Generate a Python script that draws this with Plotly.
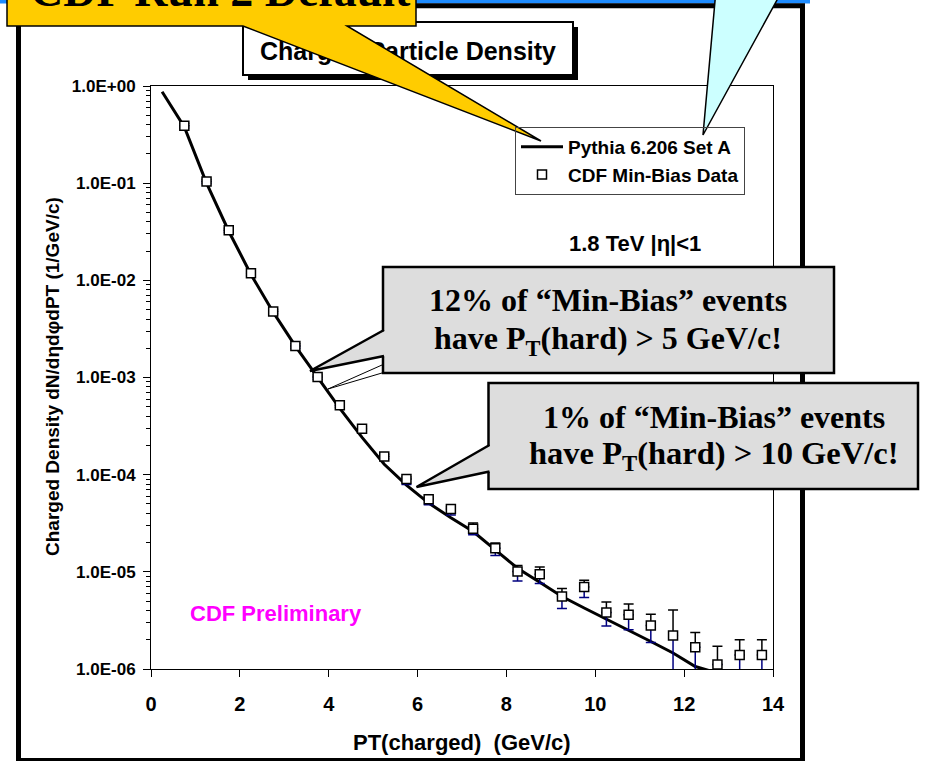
import plotly.graph_objects as go

# ---------------- data ----------------
pt_data = [0.75, 1.25, 1.75, 2.25, 2.75, 3.25, 3.75, 4.25, 4.75, 5.25, 5.75, 6.25, 6.75,
           7.25, 7.75, 8.25, 8.75, 9.25, 9.75, 10.25, 10.75, 11.25, 11.75, 12.25, 12.75,
           13.25, 13.75]
dens_data = [0.39, 0.104, 0.0328, 0.0118, 0.00477, 0.00211, 0.00101, 5.19e-4, 2.96e-4,
             1.54e-4, 9.0e-5, 5.6e-5, 4.42e-5, 2.77e-5, 1.75e-5, 1.01e-5, 9.47e-6, 5.57e-6,
             6.97e-6, 3.82e-6, 3.61e-6, 2.81e-6, 2.21e-6, 1.67e-6, 1.11e-6, 1.39e-6, 1.39e-6]
dens_hi = [0.41, 0.109, 0.0344, 0.0124, 0.0050, 0.00222, 0.00106, 5.45e-4, 3.11e-4,
           1.62e-4, 9.45e-5, 5.9e-5, 4.65e-5, 3.19e-5, 1.98e-5, 1.16e-5, 1.12e-5, 6.75e-6,
           8.2e-6, 4.9e-6, 4.66e-6, 3.65e-6, 4.05e-6, 2.38e-6, 1.71e-6, 2.0e-6, 2.0e-6]
dens_lo = [0.37, 0.099, 0.0312, 0.0112, 0.00453, 0.0020, 0.00096, 4.93e-4, 2.81e-4,
           1.46e-4, 7.9e-5, 4.9e-5, 3.85e-5, 2.41e-5, 1.47e-5, 8.07e-6, 7.6e-6, 4.2e-6,
           5.45e-6, 2.77e-6, 2.54e-6, 1.87e-6, 5.0e-7, 9.5e-7, 5.0e-7, 5.0e-7, 5.0e-7]

pt_mc = [0.25, 0.75, 1.25, 1.75, 2.25, 2.75, 3.25, 3.75, 4.25, 4.75, 5.25, 5.75, 6.25,
         6.75, 7.25, 7.75, 8.25, 8.75, 9.25, 9.75, 10.25, 10.75, 11.25, 11.75, 12.25, 12.75]
dens_mc = [0.874, 0.38, 0.10, 0.032, 0.0115, 0.0047, 0.0021, 9.9e-4, 4.8e-4, 2.42e-4,
           1.28e-4, 7.8e-5, 5.1e-5, 3.6e-5, 2.6e-5, 1.68e-5, 1.09e-5, 7.8e-6, 5.57e-6,
           4.24e-6, 3.26e-6, 2.53e-6, 1.92e-6, 1.46e-6, 1.06e-6, 9.1e-7]

y_tickvals = [1e-6, 1e-5, 1e-4, 1e-3, 1e-2, 1e-1, 1.0]
y_ticktext = ["1.0E-06", "1.0E-05", "1.0E-04", "1.0E-03", "1.0E-02", "1.0E-01", "1.0E+00"]
x_tickvals = [0, 2, 4, 6, 8, 10, 12, 14]

# ---------------- layout helpers ----------------
W, H = 929, 761
ML, MR, MT, MB = 151, 156, 86, 92
PW = W - ML - MR
PH = H - MT - MB
SANS = "Liberation Sans, Arial, sans-serif"
SERIF = "Liberation Serif, Times New Roman, serif"


def px(x):
    return (x - ML) / PW


def py(y):
    return (H - MB - y) / PH


def path(points, close=True):
    s = "M " + " L ".join(f"{px(x):.5f},{py(y):.5f}" for x, y in points)
    return s + (" Z" if close else "")


def rect(x0, y0, x1, y1, **kw):
    return dict(type="rect", xref="paper", yref="paper", layer="above",
                x0=px(x0), x1=px(x1), y0=py(y1), y1=py(y0), **kw)


def pshape(points, close=True, **kw):
    return dict(type="path", xref="paper", yref="paper", layer="above",
                path=path(points, close), **kw)


err_up = [h - v for h, v in zip(dens_hi, dens_data)]
err_dn = [v - l for v, l in zip(dens_data, dens_lo)]
zeros = [0] * len(dens_data)

fig = go.Figure()
fig.add_trace(go.Scatter(x=pt_mc, y=dens_mc, mode="lines", name="Pythia 6.206 Set A",
                         line=dict(color="black", width=3), legendgroup="a"))
fig.add_trace(go.Scatter(x=pt_data, y=dens_data, mode="markers", showlegend=False,
                         marker=dict(size=4, opacity=0),
                         error_y=dict(type="data", symmetric=False, array=err_up,
                                      arrayminus=zeros, color="black", thickness=1.5,
                                      width=5)))
fig.add_trace(go.Scatter(x=pt_data, y=dens_data, mode="markers", showlegend=False,
                         marker=dict(size=4, opacity=0),
                         error_y=dict(type="data", symmetric=False, array=zeros,
                                      arrayminus=err_dn, color="#000080", thickness=1.5,
                                      width=5)))
fig.add_trace(go.Scatter(x=pt_data, y=dens_data, mode="markers", name="CDF Min-Bias Data",
                         marker=dict(symbol="square", size=9, color="white",
                                     line=dict(color="black", width=1.5)),
                         legendgroup="b"))

shapes = [
    rect(0, 0, 810, 3.5, fillcolor="#1E8CFF", line=dict(width=0)),
    rect(18.5, 5.8, 802.5, 760.5, line=dict(color="black", width=5)),
    # title box with shadow
    rect(248, 27, 578, 80, fillcolor="black", line=dict(width=0)),
    rect(243, 22, 573, 75, fillcolor="white", line=dict(color="black", width=2),
         label=dict(text="<b>Charged Particle Density</b>", textposition="middle center",
                    font=dict(family=SANS, size=25, color="black"))),
    # yellow callout
    pshape([(7, -10), (416, -10), (416, 26), (347, 26), (541, 141), (243, 26), (7, 26)],
           fillcolor="#FFCC00", line=dict(color="black", width=1.5)),
    # cyan callout pointer
    pshape([(716, -10), (782.5, -10), (703, 135)], fillcolor="#CCFFFF",
           line=dict(color="black", width=1.5)),
    # thin leader lines
    pshape([(382, 365), (328, 389)], close=False, line=dict(color="black", width=1)),
    pshape([(382, 373), (328, 389)], close=False, line=dict(color="black", width=1)),
    # grey callout 1
    rect(383, 267, 834, 373, fillcolor="#DDDDDD", line=dict(color="black", width=2.5)),
    pshape([(386, 330), (310, 371), (386, 356)], fillcolor="#DDDDDD", line=dict(width=0)),
    pshape([(384, 330), (310, 371), (384, 356)], close=False,
           line=dict(color="black", width=2.5)),
    # grey callout 2
    rect(488.5, 383, 918, 489, fillcolor="#DDDDDD", line=dict(color="black", width=2.5)),
    pshape([(491, 445), (416.5, 487), (491, 471.5)], fillcolor="#DDDDDD", line=dict(width=0)),
    pshape([(489.5, 445), (416.5, 487), (489.5, 471.5)], close=False,
           line=dict(color="black", width=2.5)),
]


def ann(text, x, y, size, family=SANS, color="black", angle=0, weight="bold"):
    return dict(text=text, xref="paper", yref="paper", x=px(x), y=py(y),
                xanchor="center", yanchor="middle", showarrow=False, textangle=angle,
                font=dict(family=family, size=size, color=color, weight=weight))


annotations = [
    ann("CDF Run 2 Default", 220, -9, 46, family=SERIF),
    ann("12% of “Min-Bias” events", 608, 300, 32, family=SERIF),
    ann("have P<sub>T</sub>(hard) &gt; 5 GeV/c!", 608, 340, 32, family=SERIF),
    ann("1% of “Min-Bias” events", 714, 417, 32, family=SERIF),
    ann("have P<sub>T</sub>(hard) &gt; 10 GeV/c!", 714, 455, 32.5, family=SERIF),
    ann("1.8 TeV |η|&lt;1", 635, 243, 22),
    ann("CDF Preliminary", 275.5, 613, 22, color="#FF00FF"),
    ann("Charged Density dN/dηdφdPT (1/GeV/c)", 52, 377, 19, angle=-90),
    ann("PT(charged)  (GeV/c)", 462, 742, 22),
]

fig.update_layout(
    width=W, height=H, margin=dict(l=ML, r=MR, t=MT, b=MB, autoexpand=False),
    paper_bgcolor="white", plot_bgcolor="white",
    showlegend=True,
    legend=dict(x=px(515), y=py(127), xanchor="left", yanchor="top",
                bgcolor="rgba(0,0,0,0)", bordercolor="#444444", borderwidth=1,
                font=dict(family=SANS, size=19, color="black", weight="bold"),
                traceorder="grouped", tracegroupgap=0, itemwidth=42),
    xaxis=dict(range=[0, 14], tickvals=x_tickvals, ticks="outside", ticklen=7,
               tickcolor="black", tickwidth=1, showline=True, linecolor="black",
               linewidth=1, mirror=True, showgrid=False, zeroline=False,
               ticklabelstandoff=10,
               tickfont=dict(family=SANS, size=20, color="black", weight="bold")),
    xaxis2=dict(range=[0, 14], overlaying="x", anchor="y", side="bottom",
                tickvals=x_tickvals, ticks="inside", ticklen=7, tickcolor="black",
                showticklabels=False, showline=False, showgrid=False, zeroline=False),
    yaxis=dict(type="log", range=[-6, 0], tickvals=y_tickvals, ticktext=y_ticktext,
               ticks="outside", ticklen=7, tickcolor="black", showline=True,
               linecolor="black", linewidth=1, mirror=True, showgrid=False,
               zeroline=False, ticklabelstandoff=4,
               minor=dict(ticks="outside", ticklen=4, tickcolor="black",
                          tickvals=[m * 10 ** e for e in range(-6, 0) for m in range(2, 10)],
                          showgrid=False),
               tickfont=dict(family=SANS, size=17, color="black", weight="bold")),
    shapes=shapes,
    annotations=annotations,
)

fig.write_html("out.html")
